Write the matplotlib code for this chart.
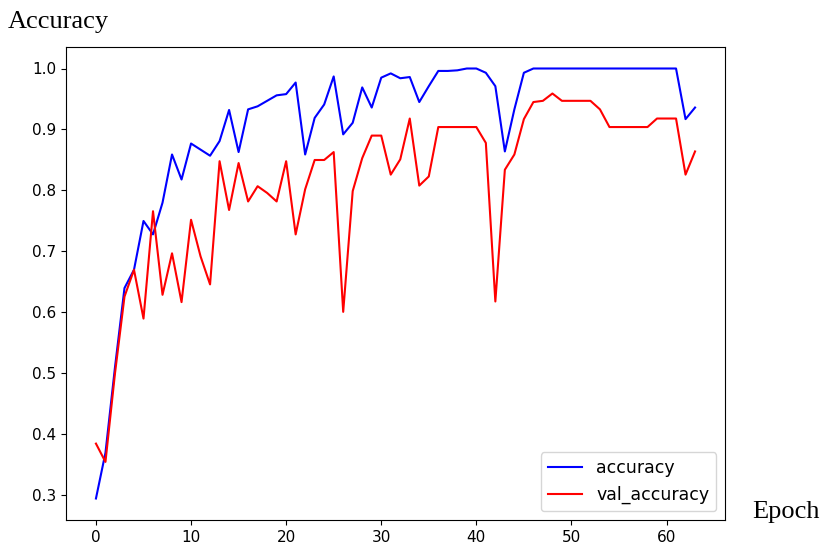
import numpy as np
import matplotlib
matplotlib.use('Agg')
import matplotlib.pyplot as plt

# values, one per epoch (64 epochs)
accuracy = [0.295, 0.37, 0.51, 0.64, 0.67, 0.75, 0.728, 0.78, 0.859, 0.818,
            0.877, 0.867, 0.857, 0.881, 0.932, 0.863, 0.933, 0.938, 0.947, 0.956,
            0.958, 0.977, 0.859, 0.919, 0.941, 0.987, 0.892, 0.911, 0.969, 0.936,
            0.985, 0.992, 0.984, 0.986, 0.945, 0.971, 0.996, 0.996, 0.997, 1.0,
            1.0, 0.993, 0.971, 0.864, 0.933, 0.993, 1.0, 1.0, 1.0, 1.0,
            1.0, 1.0, 1.0, 1.0, 1.0, 1.0, 1.0, 1.0, 1.0, 1.0,
            1.0, 1.0, 0.917, 0.936]
val_accuracy = [0.385, 0.355, 0.50, 0.626, 0.670, 0.590, 0.766, 0.629, 0.697, 0.617,
                0.752, 0.692, 0.646, 0.848, 0.768, 0.845, 0.782, 0.807, 0.796, 0.782,
                0.848, 0.728, 0.802, 0.850, 0.850, 0.863, 0.601, 0.799, 0.853, 0.890,
                0.890, 0.826, 0.851, 0.918, 0.808, 0.823, 0.904, 0.904, 0.904, 0.904,
                0.904, 0.878, 0.618, 0.834, 0.859, 0.917, 0.945, 0.947, 0.959, 0.947,
                0.947, 0.947, 0.947, 0.933, 0.904, 0.904, 0.904, 0.904, 0.904, 0.918,
                0.918, 0.918, 0.826, 0.864]
epochs = np.arange(len(accuracy))

fig = plt.figure(figsize=(8.22, 5.53), dpi=100)
ax = fig.add_axes([66/822, 1 - 520/553, 659/822, 473/553])
ax.plot(epochs, accuracy, color='blue', label='accuracy')
ax.plot(epochs, val_accuracy, color='red', label='val_accuracy')
ax.tick_params(labelsize=11)
ax.legend(loc='lower right', fontsize=12.5)

fig.text(8/822, 1 - 11/553, 'Accuracy', family='Liberation Serif', fontsize=19,
         va='top', ha='left')
fig.text(752/822, 1 - 512/553, 'Epoch', family='Liberation Serif', fontsize=19,
         va='center', ha='left')

fig.savefig('out.png', dpi=100)
